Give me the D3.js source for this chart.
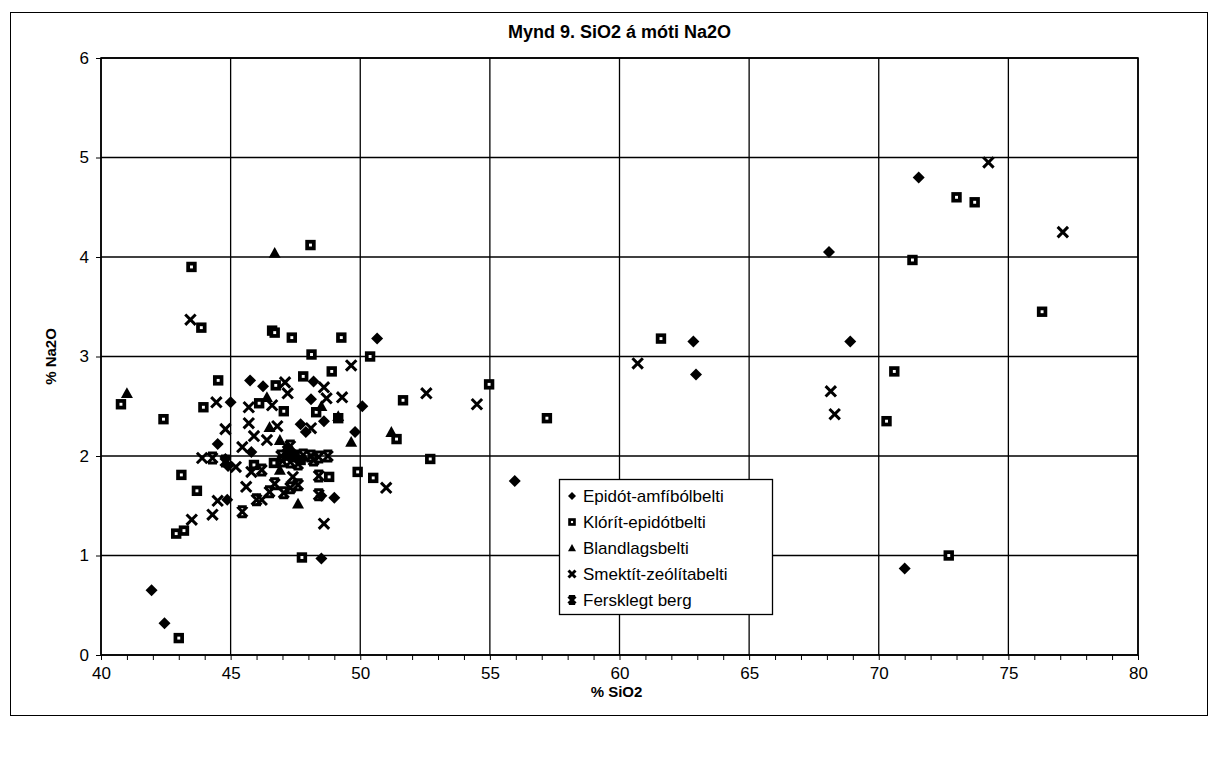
<!DOCTYPE html>
<html><head><meta charset="utf-8">
<script src="https://cdn.jsdelivr.net/npm/d3@7"></script>
<style>body{margin:0;background:#fff}svg{display:block}text{font-family:Arial,"Liberation Sans",sans-serif;fill:#000}</style>
</head><body><svg id="c" width="1219" height="758"></svg>
<script>
const title = "Mynd 9. SiO2 á móti Na2O";
const xTitle = "% SiO2", yTitle = "% Na2O";
const xTicks = [40,45,50,55,60,65,70,75,80];
const yTicks = [0,1,2,3,4,5,6];
const seriesNames = ["Epidót-amfíbólbelti","Klórít-epidótbelti","Blandlagsbelti","Smektít-zeólítabelti","Fersklegt berg"];

const epidotX = [41.95,42.45,44.5,44.8,44.87,45.0,45.75,46.25,45.8,50.65,48.2,48.1,50.08,48.6,47.7,47.9,49.8,47.2,49.0,48.5,55.96,62.85,62.95,71.54,68.08,68.9,71.0,48.5,47.5,44.9];
const epidotY = [0.65,0.32,2.12,1.97,1.56,2.54,2.76,2.70,2.04,3.18,2.75,2.57,2.50,2.35,2.32,2.24,2.24,2.09,1.58,0.97,1.75,3.15,2.82,4.8,4.05,3.15,0.87,1.6,2.0,1.9];

const kloritX = [43.49,43.87,40.77,42.41,44.52,43.95,46.6,46.7,46.74,46.1,48.08,47.36,49.27,48.12,50.38,47.8,48.9,47.05,48.3,49.15,51.65,51.4,52.7,43.1,43.7,42.9,43.2,43.0,45.9,46.67,47.7,48.8,49.9,50.5,47.75,54.97,57.2,61.6,73.0,73.7,71.3,76.3,70.6,70.3,72.7];
const kloritY = [3.90,3.29,2.52,2.37,2.76,2.49,3.26,3.24,2.71,2.53,4.12,3.19,3.19,3.02,3.0,2.80,2.85,2.45,2.44,2.38,2.56,2.17,1.97,1.81,1.65,1.22,1.25,0.17,1.91,1.93,1.96,1.79,1.84,1.78,0.98,2.72,2.38,3.18,4.6,4.55,3.97,3.45,2.85,2.35,1.0];

const blandX = [41.0,46.7,46.4,46.5,49.15,49.65,51.2,46.9,47.6,46.9,47.2,48.5];
const blandY = [2.63,4.04,2.59,2.29,2.40,2.14,2.24,2.16,1.52,1.86,2.05,2.5];

const smektitX = [43.45,44.45,44.8,45.7,45.7,45.9,45.45,43.9,43.5,44.3,44.5,45.2,45.6,45.8,49.65,48.6,48.7,49.3,47.1,47.2,46.6,48.1,46.8,52.55,46.4,48.6,51.0,47.4,46.2,54.5,60.7,68.15,68.3,74.23,77.1];
const smektitY = [3.37,2.54,2.27,2.33,2.49,2.2,2.09,1.98,1.36,1.41,1.55,1.89,1.69,1.84,2.91,2.69,2.58,2.59,2.74,2.63,2.51,2.28,2.30,2.63,2.16,1.32,1.68,1.79,1.56,2.52,2.93,2.65,2.42,4.95,4.25];

const ferskX = [44.8,45.45,46.0,46.5,47.05,47.6,48.4,48.4,46.95,47.2,47.5,47.8,48.1,48.4,48.75,47.3,47.6,48.2,47.0,46.7,47.3,44.3,46.2,47.3];
const ferskY = [1.95,1.44,1.56,1.64,1.63,1.71,1.61,1.80,2.0,2.02,2.0,2.01,2.0,1.99,2.0,1.94,1.92,1.96,1.95,1.72,2.1,1.98,1.86,1.68];

const svg = d3.select("#c");
const L=101,R=1138,T=58,B=655;
const x = d3.scaleLinear().domain([40,80]).range([L,R]);
const y = d3.scaleLinear().domain([0,6]).range([B,T]);

// outer frame
svg.append("rect").attr("x",10.5).attr("y",12.5).attr("width",1197).attr("height",703).attr("fill","none").attr("stroke","#000").attr("stroke-width",1);

// gridlines
const g = svg.append("g");
g.selectAll(".vx").data(xTicks).join("line").attr("x1",d=>x(d)).attr("x2",d=>x(d)).attr("y1",T).attr("y2",B).attr("stroke","#000").attr("stroke-width",1.3);
g.selectAll(".hy").data(yTicks).join("line").attr("x1",L).attr("x2",R).attr("y1",d=>y(d)).attr("y2",d=>y(d)).attr("stroke","#000").attr("stroke-width",1.3);
g.append("rect").attr("x",L).attr("y",T).attr("width",R-L).attr("height",B-T).attr("fill","none").attr("stroke","#000").attr("stroke-width",1.6);

// axes
const xAxis = d3.axisBottom(x).tickValues(d3.range(40,81,1)).tickSize(5).tickFormat(d=> xTicks.includes(d)? d : "");
const xa = svg.append("g").attr("transform",`translate(0,${B})`).call(xAxis);
xa.select(".domain").remove();
xa.selectAll("line").attr("stroke","#000");
xa.selectAll("text").attr("font-size",17).attr("dy","0.95em").attr("y",8);
const yAxis = d3.axisLeft(y).tickValues(yTicks).tickSize(5).tickFormat(d3.format("d"));
const ya = svg.append("g").attr("transform",`translate(${L},0)`).call(yAxis);
ya.select(".domain").remove();
ya.selectAll("line").attr("stroke","#000");
ya.selectAll("text").attr("font-size",17).attr("x",-12);

svg.append("text").attr("x",(L+R)/2).attr("y",38).attr("text-anchor","middle").attr("font-weight","bold").attr("font-size",18).text(title);
svg.append("text").attr("x",(L+R)/2-3).attr("y",697).attr("text-anchor","middle").attr("font-weight","bold").attr("font-size",15).text(xTitle);
svg.append("text").attr("transform",`translate(56,${(T+B)/2}) rotate(-90)`).attr("text-anchor","middle").attr("font-weight","bold").attr("font-size",15).text(yTitle);

// symbols
function drawSym(sel, type, s){
  if(type===0){ sel.append("path").attr("d",`M0,${-s}L${s},0L0,${s}L${-s},0Z`).attr("fill","#000"); }
  else if(type===1){ sel.append("rect").attr("x",-s).attr("y",-s).attr("width",2*s).attr("height",2*s).attr("fill","#000");
    sel.append("rect").attr("x",-s*0.28).attr("y",-s*0.28).attr("width",s*0.56).attr("height",s*0.56).attr("fill","#fff"); }
  else if(type===2){ sel.append("path").attr("d",`M0,${-s}L${s},${s*0.8}L${-s},${s*0.8}Z`).attr("fill","#000"); }
  else if(type===3){ sel.append("path").attr("d",`M${-s},${-s}L${s},${s}M${s},${-s}L${-s},${s}`).attr("stroke","#000").attr("stroke-width",3).attr("fill","none"); }
  else { sel.append("path").attr("d",`M${-s},${-s}L${s},${s}M${s},${-s}L${-s},${s}M${-s*0.9},${-s}L${s*0.9},${-s}M${-s*0.9},${s}L${s*0.9},${s}`).attr("stroke","#000").attr("stroke-width",3).attr("fill","none"); }
}
const seriesData = [[epidotX,epidotY],[kloritX,kloritY],[blandX,blandY],[smektitX,smektitY],[ferskX,ferskY]];
const sizes=[6,5.2,6,5.2,5];
seriesData.forEach(([xs,ys],i)=>{
  const pts = xs.map((v,j)=>[v,ys[j]]);
  svg.append("g").selectAll("g").data(pts).join("g")
    .attr("transform",d=>`translate(${x(d[0])},${y(d[1])})`)
    .each(function(){ drawSym(d3.select(this), i, sizes[i]); });
});

// legend
const lg = svg.append("g").attr("transform","translate(559,479)");
lg.append("rect").attr("x",0.5).attr("y",0.5).attr("width",213).attr("height",135).attr("fill","#fff").attr("stroke","#000").attr("stroke-width",1.3);
seriesNames.forEach((n,i)=>{
  const row = lg.append("g").attr("transform",`translate(0,${17+i*26})`);
  const sg = row.append("g").attr("transform","translate(13,0)");
  drawSym(sg, i, [4,3.8,4,3.5,3.5][i]);
  row.append("text").attr("x",24).attr("y",0).attr("dy","0.36em").attr("font-size",17).text(n);
});
</script></body></html>
